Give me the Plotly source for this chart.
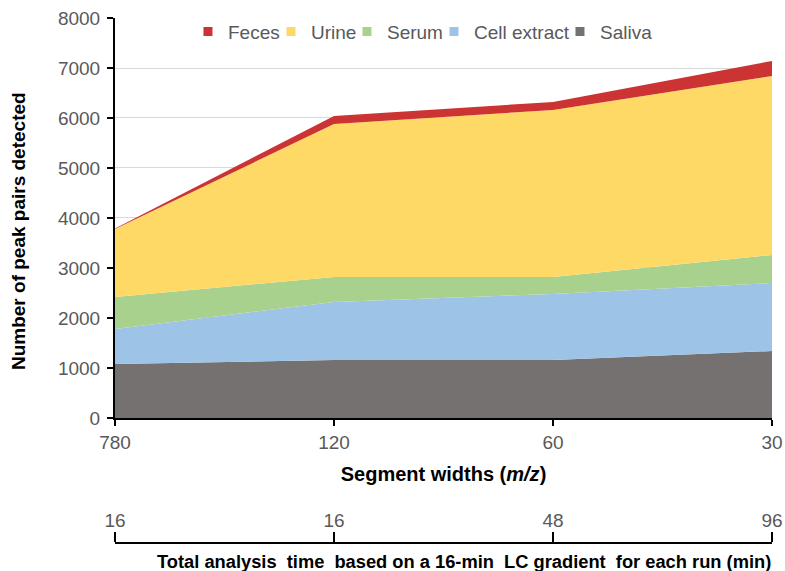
import plotly.graph_objects as go

segment_widths = ["780", "120", "60", "30"]
analysis_time = ["16", "16", "48", "96"]

saliva = [1080, 1160, 1160, 1340]
cell_extract = [700, 1160, 1320, 1360]
serum = [640, 500, 340, 560]
urine = [1360, 3060, 3340, 3580]
feces = [10, 160, 160, 300]

series = [
    ("Saliva", saliva, "#767171"),
    ("Cell extract", cell_extract, "#9DC3E6"),
    ("Serum", serum, "#A9D18E"),
    ("Urine", urine, "#FFD966"),
    ("Feces", feces, "#CC3333"),
]
# legend entry widths (px) to mimic the compact spreadsheet-style legend
legend_w = {"Feces": 38, "Urine": 31, "Serum": 42, "Cell extract": 81, "Saliva": 52}

FONT = "Liberation Sans, Arial, sans-serif"
GRAY = "#595959"

fig = go.Figure()
for name, vals, col in series:
    fig.add_trace(go.Scatter(
        x=segment_widths, y=vals, name=name, stackgroup="one",
        mode="none", fillcolor=col, line=dict(width=0),
        showlegend=False, hoverinfo="x+y+name"))

# legend entries (square markers)
for name, vals, col in reversed(series):
    fig.add_trace(go.Scatter(
        x=[None], y=[None], name=name, mode="markers",
        marker=dict(symbol="square", size=9, color=col),
        legendwidth=legend_w[name], showlegend=True))

# dummy trace for the secondary (time) axis
fig.add_trace(go.Scatter(x=[0, 3], y=[None, None], xaxis="x2", yaxis="y",
                         showlegend=False, hoverinfo="skip", mode="lines"))

fig.update_layout(
    width=785, height=571,
    margin=dict(l=115, r=13, t=18, b=10, autoexpand=False),
    paper_bgcolor="white", plot_bgcolor="white",
    font=dict(family=FONT, size=19, color=GRAY),
    showlegend=True,
    legend=dict(orientation="h", x=0.468, xanchor="center", y=1.01, yanchor="top",
                font=dict(size=19, color=GRAY), itemwidth=30, traceorder="normal",
                bgcolor="rgba(0,0,0,0)"),
    xaxis=dict(type="category", categoryorder="array", categoryarray=segment_widths,
               range=[0, 3], showline=True, linecolor="black", linewidth=2,
               ticks="outside", ticklen=6, tickwidth=2, tickcolor="black",
               showgrid=False, zeroline=False, automargin=False,
               tickfont=dict(size=19, color=GRAY),
               title=dict(text="<b>Segment widths (<i>m/z</i>)</b>",
                          font=dict(size=20, color="black"), standoff=15)),
    yaxis=dict(domain=[0.2634, 1], range=[0, 8000], dtick=1000,
               showline=True, linecolor="black", linewidth=2,
               ticks="outside", ticklen=6, tickwidth=2, tickcolor="black",
               showgrid=True, gridcolor="#D9D9D9", gridwidth=1, zeroline=False,
               automargin=False, ticklabelstandoff=3,
               tickfont=dict(size=19, color=GRAY)),
    xaxis2=dict(overlaying="x", anchor="free", position=0.0331, side="top",
                range=[0, 3], tickmode="array", tickvals=[0, 1, 2, 3],
                ticktext=analysis_time, showline=True, linecolor="black",
                linewidth=2, ticks="outside", ticklen=10, tickwidth=2,
                tickcolor="black", showgrid=False, zeroline=False, automargin=False,
                tickfont=dict(size=19, color=GRAY), ticklabelstandoff=-3),
    annotations=[
        dict(text="<b>Number of peak pairs detected</b>", textangle=-90,
             xref="paper", yref="paper", x=-0.1476, y=0.6077,
             xanchor="center", yanchor="middle", showarrow=False,
             font=dict(size=19, color="black")),
        dict(text="<b>Total analysis  time  based on a 16-min  LC gradient  for each run (min)</b>",
             xref="paper", yref="paper", x=0.531, y=-0.0018, xanchor="center", yanchor="middle",
             showarrow=False, font=dict(size=18.3, color="black")),
    ],
)

fig.write_html("out.html")
